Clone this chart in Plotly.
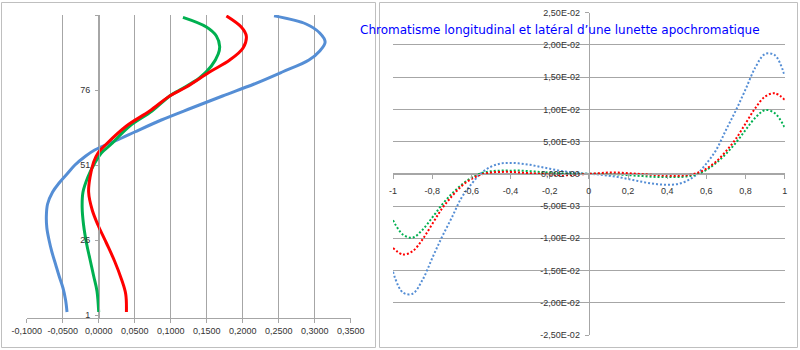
import plotly.graph_objects as go

# ---------------- Longitudinal chromatism (left panel) ----------------
# pupil zone index (vertical) vs focus shift (horizontal), one curve per wavelength
long_blue_zone = [2, 6, 10, 14, 18, 22, 26, 30, 34, 38, 42, 45, 48, 51, 54, 56, 58, 60, 62,
                  66, 70, 74, 78, 82, 86, 89, 92, 95, 98, 100.7]
long_blue_shift = [-0.044, -0.046, -0.0496, -0.055, -0.060, -0.065, -0.069, -0.0720, -0.0727,
                   -0.0710, -0.064, -0.055, -0.044, -0.033, -0.018, -0.0056, 0.013, 0.032, 0.050,
                   0.087, 0.129, 0.172, 0.216, 0.255, 0.292, 0.307, 0.3145, 0.307, 0.288, 0.2435]

long_green_zone = [2, 9, 14, 20, 25, 31, 37, 42, 47, 51.6, 55, 58, 64, 69, 74, 76, 80, 84, 88,
                   90.5, 94, 97, 100.2]
long_green_shift = [0.000, -0.0024, -0.007, -0.0125, -0.017, -0.021, -0.023, -0.0218, -0.015,
                    -0.0056, 0.0037, 0.0176, 0.043, 0.074, 0.0986, 0.1125, 0.140, 0.1565, 0.166,
                    0.168, 0.1634, 0.1496, 0.117]

long_red_zone = [2, 8, 13, 19, 25, 31, 36, 42, 47, 52, 55, 58, 64, 69, 74, 77, 82, 86, 90, 94,
                 97, 100.7]
long_red_shift = [0.0385, 0.0375, 0.0315, 0.022, 0.0107, -0.001, -0.009, -0.014, -0.012, -0.007,
                  -0.001, 0.0107, 0.0385, 0.0708, 0.0986, 0.1218, 0.154, 0.182, 0.2005, 0.205,
                  0.198, 0.1774]

long_x_ticks = [-0.10, -0.05, 0.00, 0.05, 0.10, 0.15, 0.20, 0.25, 0.30, 0.35]
long_x_labels = ['-0,1000', '-0,0500', '0,0000', '0,0500', '0,1000', '0,1500', '0,2000',
                 '0,2500', '0,3000', '0,3500']
long_y_ticks = [1, 26, 51, 76, 101]
long_y_labels = ['1', '26', '51', '76', '']

# ---------------- Lateral chromatism (right panel) ----------------
pupil = [-1.00, -0.95, -0.90, -0.85, -0.80, -0.75, -0.70, -0.65, -0.60, -0.55, -0.50,
         -0.45, -0.40, -0.35, -0.30, -0.25, -0.20, -0.15, -0.10, -0.05, 0.00,
         0.05, 0.10, 0.15, 0.20, 0.25, 0.30, 0.35, 0.40, 0.45, 0.50,
         0.55, 0.60, 0.65, 0.70, 0.75, 0.80, 0.85, 0.90, 0.95, 1.00]

lat_blue = [-0.0152, -0.0184, -0.0186, -0.0165, -0.0131, -0.0098, -0.0068, -0.0037, -0.0016,
            0.0001, 0.0011, 0.0016, 0.0017, 0.0016, 0.0014, 0.0011, 0.0008, 0.0005, 0.0003,
            0.0001, 0.0,
            -0.0001, -0.0003, -0.0005, -0.0008, -0.0011, -0.0014, -0.0016, -0.0017, -0.0016,
            -0.0011, -0.0001, 0.0016, 0.0037, 0.0068, 0.0098, 0.0131, 0.0165, 0.0186, 0.0184,
            0.0152]

lat_green = [-0.0072, -0.0094, -0.0099, -0.0087, -0.0068, -0.0048, -0.0031, -0.0017, -0.0006,
             0.0001, 0.0004, 0.0005, 0.0005, 0.0005, 0.0004, 0.0003, 0.0002, 0.0001, 0.00005,
             0.0, 0.0,
             0.0, -0.00005, -0.0001, -0.0002, -0.0003, -0.0004, -0.0005, -0.0005, -0.0005,
             -0.0004, -0.0001, 0.0006, 0.0017, 0.0031, 0.0048, 0.0068, 0.0087, 0.0099, 0.0094,
             0.0072]

lat_red = [-0.0115, -0.0125, -0.0120, -0.0102, -0.0078, -0.0054, -0.0035, -0.0019, -0.0008,
           -0.0001, 0.0002, 0.0003, 0.0003, 0.0002, 0.0001, 0.0, -0.0001, -0.0002, -0.0002,
           -0.0001, 0.0,
           0.0001, 0.0002, 0.0002, 0.0001, 0.0, -0.0001, -0.0002, -0.0003, -0.0003,
           -0.0002, 0.0001, 0.0008, 0.0019, 0.0035, 0.0054, 0.0078, 0.0102, 0.0120, 0.0125,
           0.0115]

lat_x_ticks = [-1.0, -0.8, -0.6, -0.4, -0.2, 0.0, 0.2, 0.4, 0.6, 0.8, 1.0]
lat_x_labels = ['-1', '-0,8', '-0,6', '-0,4', '-0,2', '0', '0,2', '0,4', '0,6', '0,8', '1']
lat_y_ticks = [-0.025, -0.020, -0.015, -0.010, -0.005, 0.0, 0.005, 0.010, 0.015, 0.020, 0.025]
lat_y_labels = ['-2,50E-02', '-2,00E-02', '-1,50E-02', '-1,00E-02', '-5,00E-03', '0,00E+00',
                '5,00E-03', '1,00E-02', '1,50E-02', '2,00E-02', '2,50E-02']

title_text = 'Chromatisme longitudinal et latéral d’une lunette apochromatique'

BLUE = '#558ED5'
GREEN = '#00B050'
RED = '#FF0000'
GRID = '#A6A6A6'
TICKFONT = dict(family='Liberation Sans, Arial, sans-serif', size=9, color='#333333')

W, H = 800, 350


def px(xp):
    return xp / W


def py(yp):
    return (H - yp) / H


fig = go.Figure()

for xs, ys, col in [(long_blue_shift, long_blue_zone, BLUE),
                    (long_green_shift, long_green_zone, GREEN),
                    (long_red_shift, long_red_zone, RED)]:
    fig.add_trace(go.Scatter(x=xs, y=ys, mode='lines', xaxis='x', yaxis='y',
                             line=dict(color=col, width=3, shape='spline', smoothing=1.0),
                             hoverinfo='skip', showlegend=False))

for ys, col in [(lat_blue, BLUE), (lat_green, GREEN), (lat_red, RED)]:
    fig.add_trace(go.Scatter(x=pupil, y=ys, mode='lines', xaxis='x2', yaxis='y2',
                             line=dict(color=col, width=2, shape='spline', smoothing=1.0,
                                       dash='2px,2px'),
                             hoverinfo='skip', showlegend=False))

fig.update_layout(
    width=W, height=H,
    margin=dict(l=0, r=0, t=0, b=0, pad=0, autoexpand=False),
    paper_bgcolor='white', plot_bgcolor='white',
    showlegend=False,
    xaxis=dict(domain=[px(26.7), px(350.7)], range=[-0.1, 0.35], anchor='y',
               tickvals=long_x_ticks, ticktext=long_x_labels, tickfont=TICKFONT,
               showgrid=True, gridcolor=GRID, gridwidth=1, zeroline=False,
               showline=True, linecolor=GRID, linewidth=1, automargin=False,
               ticks='outside', ticklen=4, tickcolor=GRID, fixedrange=True),
    yaxis=dict(domain=[py(318), py(15)], range=[0, 101], anchor='free', position=px(99),
               tickvals=long_y_ticks, ticktext=long_y_labels, tickfont=TICKFONT,
               showgrid=False, zeroline=False, automargin=False,
               showline=True, linecolor=GRID, linewidth=1,
               ticks='outside', ticklen=4, tickcolor=GRID, ticklabelstandoff=3,
               fixedrange=True),
    xaxis2=dict(domain=[px(393), px(784.7)], range=[-1, 1], anchor='free',
                position=py(173.9), automargin=False,
                tickvals=lat_x_ticks, ticktext=lat_x_labels, tickfont=TICKFONT,
                showgrid=False, zeroline=False,
                showline=True, linecolor=GRID, linewidth=1,
                ticks='outside', ticklen=4, tickcolor=GRID, ticklabelstandoff=4,
                fixedrange=True),
    yaxis2=dict(domain=[py(335), py(12.7)], range=[-0.025, 0.025], anchor='free',
                position=px(588.7), automargin=False,
                tickvals=lat_y_ticks, ticktext=lat_y_labels, tickfont=TICKFONT,
                showgrid=True, gridcolor=GRID, gridwidth=1, zeroline=False,
                showline=True, linecolor=GRID, linewidth=1,
                ticks='outside', ticklen=4, tickcolor=GRID, ticklabelstandoff=3,
                fixedrange=True),
    shapes=[
        dict(type='rect', xref='paper', yref='paper',
             x0=px(1.5), x1=px(375.5), y0=py(347.5), y1=py(2.5),
             line=dict(color='#BFBFBF', width=1), fillcolor='rgba(0,0,0,0)', layer='below'),
        dict(type='rect', xref='paper', yref='paper',
             x0=px(379.5), x1=px(797.5), y0=py(347.5), y1=py(2.5),
             line=dict(color='#BFBFBF', width=1), fillcolor='rgba(0,0,0,0)', layer='below'),
    ],
    annotations=[
        dict(text=title_text, xref='paper', yref='paper', x=px(559.5), y=py(30),
             xanchor='center', yanchor='middle', showarrow=False,
             font=dict(family='DejaVu Sans, Verdana, sans-serif', size=12, color='#0000FF')),
    ],
)

fig.write_html('out.html')
